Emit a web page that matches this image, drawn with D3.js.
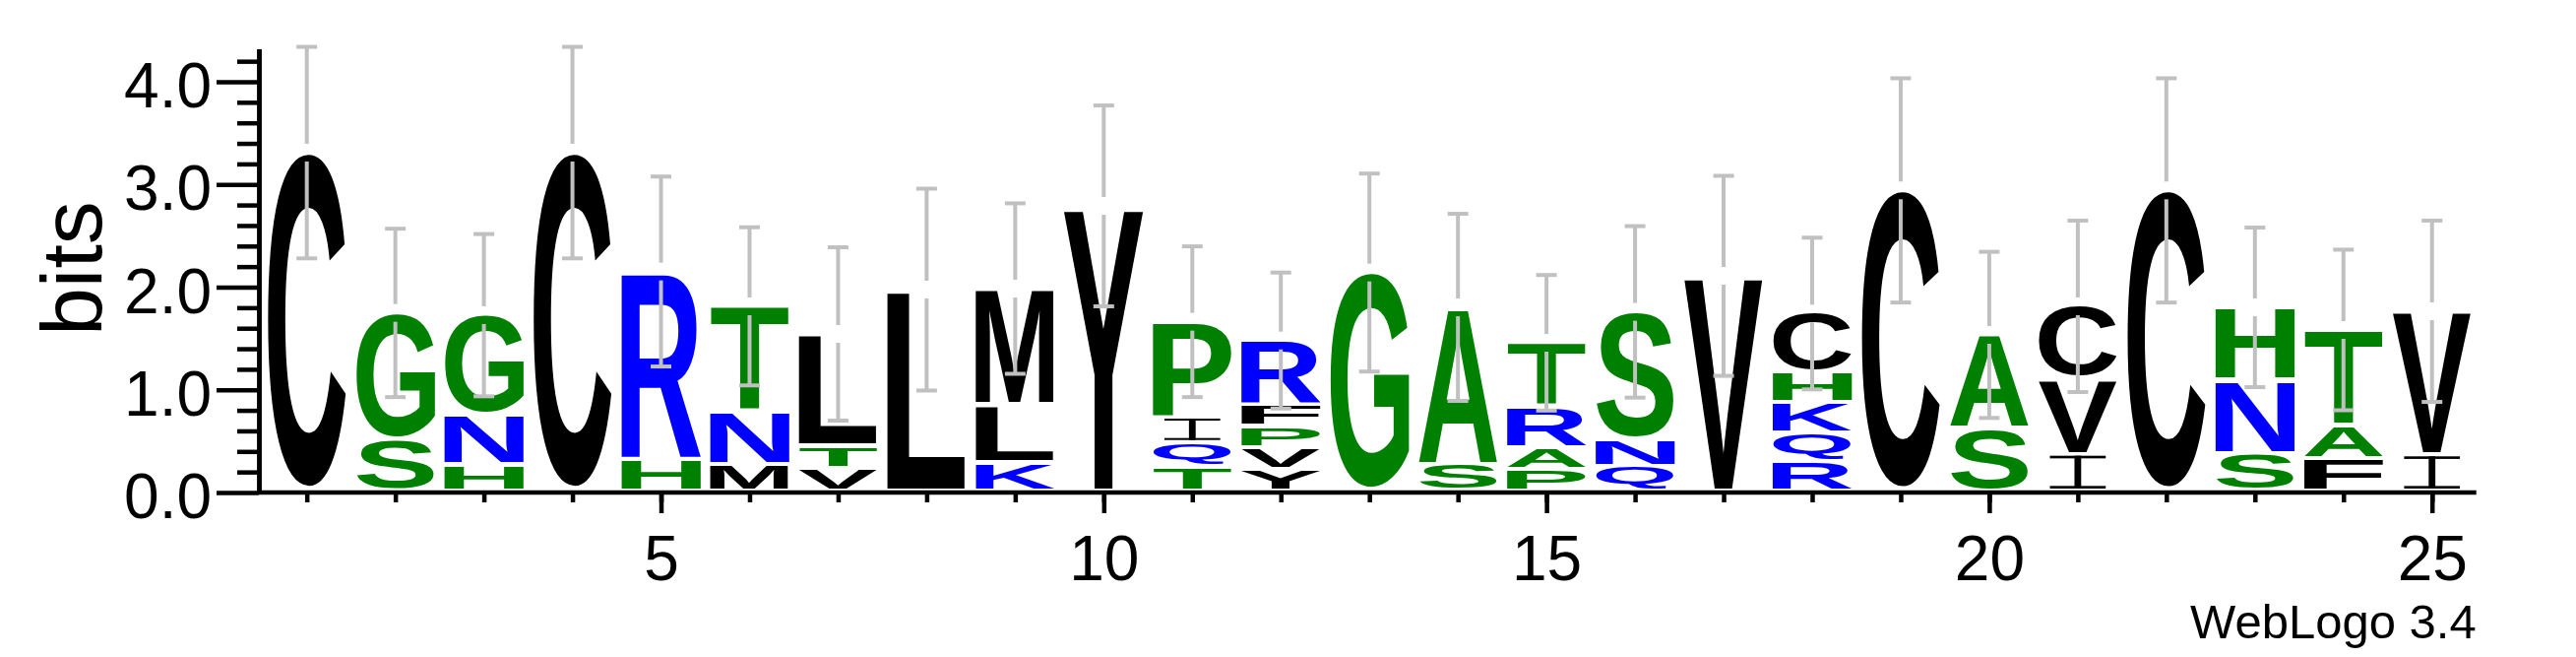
<!DOCTYPE html>
<html>
<head>
<meta charset="utf-8">
<script src="https://cdn.jsdelivr.net/npm/d3@7"></script>
<style>
  body { margin: 0; background: #fff; }
  text { font-family: "Liberation Sans", Arial, sans-serif; }
</style>
</head>
<body>
<div id="logo"></div>
<script>
// sequence positions
var positions = [1, 2, 3, 4, 5, 6, 7, 8, 9, 10, 11, 12, 13, 14, 15, 16, 17, 18, 19, 20, 21, 22, 23, 24, 25];

// letters of each stack, bottom to top
var stackLetters = [
  ["C"], ["S", "G"], ["H", "N", "G"], ["C"], ["H", "R"],
  ["M", "N", "T"], ["V", "T", "L"], ["L"], ["K", "L", "M"], ["Y"],
  ["T", "Q", "I", "P"], ["Y", "V", "P", "F", "R"], ["G"], ["S", "A"], ["P", "A", "R", "T"],
  ["Q", "N", "S"], ["V"], ["R", "Q", "K", "H", "C"], ["C"], ["S", "A"],
  ["I", "V", "C"], ["C"], ["S", "N", "H"], ["F", "A", "T"], ["I", "V"]
];

// height of each letter in bits, same order
var stackBits = [
  [3.31], [0.505, 1.244], [0.256, 0.486, 0.985], [3.31], [0.31, 1.842],
  [0.262, 0.515, 1.036], [0.224, 0.217, 1.103], [1.976], [0.281, 0.563, 1.142], [2.791],
  [0.24, 0.233, 0.246, 0.944], [0.214, 0.211, 0.205, 0.217, 0.633], [2.142], [0.262, 1.541], [0.214, 0.211, 0.406, 0.627],
  [0.24, 0.265, 1.254], [2.11], [0.288, 0.278, 0.297, 0.298, 0.582], [2.942], [0.614, 0.921],
  [0.358, 0.736, 0.719], [2.942], [0.368, 0.719, 0.716], [0.32, 0.319, 0.944], [0.352, 1.413]
];

// error bar half-size in bits
var errorBits = [
  1.03, 0.82, 0.79, 1.03, 0.925,
  0.77, 0.844, 0.983, 0.83, 0.978,
  0.734, 0.662, 0.964, 0.911, 0.66,
  0.835, 0.974, 0.739, 1.092, 0.809,
  0.835, 1.092, 0.777, 0.782, 0.883
];

var yTicks = [0, 1, 2, 3, 4];
var yMinorTicks = [0.2, 0.4, 0.6, 0.8, 1.2, 1.4, 1.6, 1.8, 2.2, 2.4, 2.6, 2.8, 3.2, 3.4, 3.6, 3.8, 4.2];
var xTicks = [5, 10, 15, 20, 25];
var maxBits = Math.log2(20);

var width = 2617;
var height = 667;
var axisWidth = 4.5;
var letterWidth = 81;
var letterPad = 4;
var errGap = 9;

// hydrophobicity colour scheme
function letterColor(ch) {
  if ("RKDENQ".indexOf(ch) >= 0) return "#0000ff";
  if ("SGHTAP".indexOf(ch) >= 0) return "#008000";
  return "#000000";
}

var svg = d3
  .select("#logo")
  .append("svg")
  .attr("width", width)
  .attr("height", height);

var xScale = d3.scaleLinear().domain([0.5, 25.5]).range([266.7, 2515.7]);
var yScale = d3.scaleLinear().domain([0, maxBits]).range([500, 500 - maxBits * 104.25]);

// measure the ink box of a glyph so it can be stretched to fill its slot
var glyphSize = 400;
var glyphFont = "bold " + glyphSize + "px 'Liberation Sans'";
var ctx = document.createElement("canvas").getContext("2d");
var inkCache = {};
function inkBox(ch) {
  if (!inkCache[ch]) {
    ctx.font = glyphFont;
    var m = ctx.measureText(ch);
    inkCache[ch] = {
      left: -m.actualBoundingBoxLeft,
      right: m.actualBoundingBoxRight,
      top: -m.actualBoundingBoxAscent,
      bottom: m.actualBoundingBoxDescent
    };
  }
  return inkCache[ch];
}

// stacks
var letters = [];
positions.forEach(function(p, i) {
  var base = 0;
  stackLetters[i].forEach(function(ch, j) {
    var h = stackBits[i][j];
    letters.push({ pos: p, ch: ch, b: base, t: base + h });
    base += h;
  });
});

var gLetters = svg.append("g").attr("class", "stacks");

letters.forEach(function(d) {
  var yTop = yScale(d.t);
  var yBot = yScale(d.b) - letterPad;
  var h = Math.max(yBot - yTop, 1);
  var color = letterColor(d.ch);

  if (d.ch === "I") {
    // serif I, drawn narrower as in the reference
    var w = letterWidth * 0.7;
    var x0 = xScale(d.pos) - w / 2;
    var bar = Math.max(h * 0.08, 2);
    var stem = w * 0.12;
    var gI = gLetters.append("g").attr("fill", color);
    gI.append("rect").attr("x", x0).attr("y", yTop).attr("width", w).attr("height", bar);
    gI.append("rect").attr("x", x0).attr("y", yBot - bar).attr("width", w).attr("height", bar);
    gI.append("rect").attr("x", xScale(d.pos) - stem / 2).attr("y", yTop).attr("width", stem).attr("height", h);
    return;
  }

  var ink = inkBox(d.ch);
  var sx = letterWidth / (ink.right - ink.left);
  var sy = h / (ink.bottom - ink.top);
  gLetters
    .append("text")
    .attr("font-size", glyphSize)
    .attr("font-weight", "bold")
    .attr("fill", color)
    .attr(
      "transform",
      "translate(" + (xScale(d.pos) - letterWidth / 2) + "," + yTop + ")" +
      "scale(" + sx + "," + sy + ")" +
      "translate(" + (-ink.left) + "," + (-ink.top) + ")"
    )
    .text(d.ch);
});

// error bars
var gErr = svg
  .append("g")
  .attr("class", "errors")
  .attr("stroke", "#c0c0c0")
  .attr("stroke-width", 4);

positions.forEach(function(p, i) {
  var total = d3.sum(stackBits[i]);
  var cx = xScale(p);
  var yc = yScale(total);
  var yHi = yScale(total + errorBits[i]);
  var yLo = yScale(total - errorBits[i]);
  gErr.append("line").attr("x1", cx).attr("x2", cx).attr("y1", yHi).attr("y2", yc - errGap);
  gErr.append("line").attr("x1", cx).attr("x2", cx).attr("y1", yc + errGap).attr("y2", yLo);
  gErr.append("line").attr("x1", cx - 10.5).attr("x2", cx + 10.5).attr("y1", yHi).attr("y2", yHi);
  gErr.append("line").attr("x1", cx - 10.5).attr("x2", cx + 10.5).attr("y1", yLo).attr("y2", yLo);
});

// y axis
var yAxisX = 263;
var yMinor = d3.axisLeft(yScale).tickValues(yMinorTicks).tickSize(22).tickSizeOuter(0).tickFormat("");
var yMajor = d3.axisLeft(yScale).tickValues(yTicks).tickSize(43).tickSizeOuter(0).tickPadding(5)
  .tickFormat(d3.format(".1f"));

svg.append("g").attr("class", "yMinor").attr("transform", "translate(" + yAxisX + ",0)").call(yMinor);
var gy = svg.append("g").attr("class", "yAxis").attr("transform", "translate(" + yAxisX + ",0)").call(yMajor);

gy.selectAll("text").attr("font-size", 64).attr("dy", null).attr("y", 25.5).attr("fill", "#000");

// x axis
var xAxisY = yScale(0);
var xMinor = d3.axisBottom(xScale).tickValues(positions).tickSize(10).tickSizeOuter(0).tickFormat("");
var xMajor = d3.axisBottom(xScale).tickValues(xTicks).tickSize(21).tickSizeOuter(0);

svg.append("g").attr("class", "xMinor").attr("transform", "translate(0," + xAxisY + ")").call(xMinor);
var gx = svg.append("g").attr("class", "xAxis").attr("transform", "translate(0," + xAxisY + ")").call(xMajor);
gx.select(".domain").remove();
gx.selectAll("text").attr("font-size", 64).attr("dy", null).attr("y", 89).attr("fill", "#000");

svg.selectAll(".xMinor .domain").remove();
svg
  .append("line")
  .attr("x1", yAxisX)
  .attr("x2", xScale(25.5))
  .attr("y1", xAxisY)
  .attr("y2", xAxisY)
  .attr("stroke", "#000")
  .attr("stroke-width", axisWidth);

svg.selectAll(".yAxis path, .yAxis line, .yMinor path, .yMinor line, .xAxis line, .xMinor line")
  .attr("stroke", "#000")
  .attr("stroke-width", axisWidth);

// labels
svg
  .append("text")
  .attr("transform", "translate(103," + yScale(maxBits / 2 + 0.02) + ")rotate(-90)")
  .attr("text-anchor", "middle")
  .attr("font-size", 88)
  .text("bits");

svg
  .append("text")
  .attr("x", xScale(25.5))
  .attr("y", 648)
  .attr("text-anchor", "end")
  .attr("font-size", 49)
  .text("WebLogo 3.4");
</script>
</body>
</html>
